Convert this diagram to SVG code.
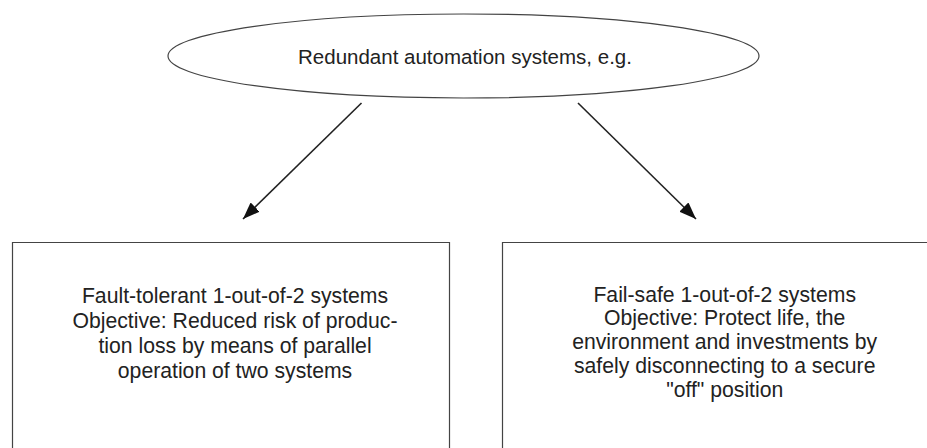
<svg xmlns="http://www.w3.org/2000/svg" width="927" height="448" viewBox="0 0 927 448">
<style>
text{font-family:"Liberation Sans",Arial,sans-serif;fill:#222;text-anchor:middle}
.t{font-size:20.5px}
.b{font-size:21.2px}
.shape{fill:none;stroke:#444;stroke-width:1.2}
.conn{stroke:#222;stroke-width:1.6;fill:none}
</style>
<defs>
<marker id="ah" markerUnits="userSpaceOnUse" markerWidth="18" markerHeight="13" refX="17" refY="6.5" orient="auto">
<path d="M0,0 L17,6.5 L0,13 z" fill="#111"/>
</marker>
</defs>
<rect width="927" height="448" fill="#fff"/>
<g id="root">
<ellipse class="shape" cx="463.5" cy="56" rx="295.5" ry="42"/>
<text class="t" x="465" y="64">Redundant automation systems, e.g.</text>
</g>
<g id="fault-tolerant">
<path class="shape" d="M12.5,449 V242.5 H449.5 V449"/>
<text class="b" x="235" y="302.5">Fault-tolerant 1-out-of-2 systems</text>
<text class="b" x="235" y="327.7">Objective: Reduced risk of produc-</text>
<text class="b" x="235" y="352.9">tion loss by means of parallel</text>
<text class="b" x="235" y="378.1">operation of two systems</text>
</g>
<g id="fail-safe">
<path class="shape" d="M502.5,449 V242.5 H928"/>
<text class="b" x="724.7" y="301.7">Fail-safe 1-out-of-2 systems</text>
<text class="b" x="724.7" y="325.4">Objective: Protect life, the</text>
<text class="b" x="724.7" y="349.1">environment and investments by</text>
<text class="b" x="724.7" y="372.8">safely disconnecting to a secure</text>
<text class="b" x="724.7" y="396.5">"off" position</text>
</g>
<g id="connectors">
<line class="conn" x1="361.5" y1="103" x2="243" y2="219" marker-end="url(#ah)"/>
<line class="conn" x1="578" y1="103" x2="696" y2="219" marker-end="url(#ah)"/>
</g>
</svg>
